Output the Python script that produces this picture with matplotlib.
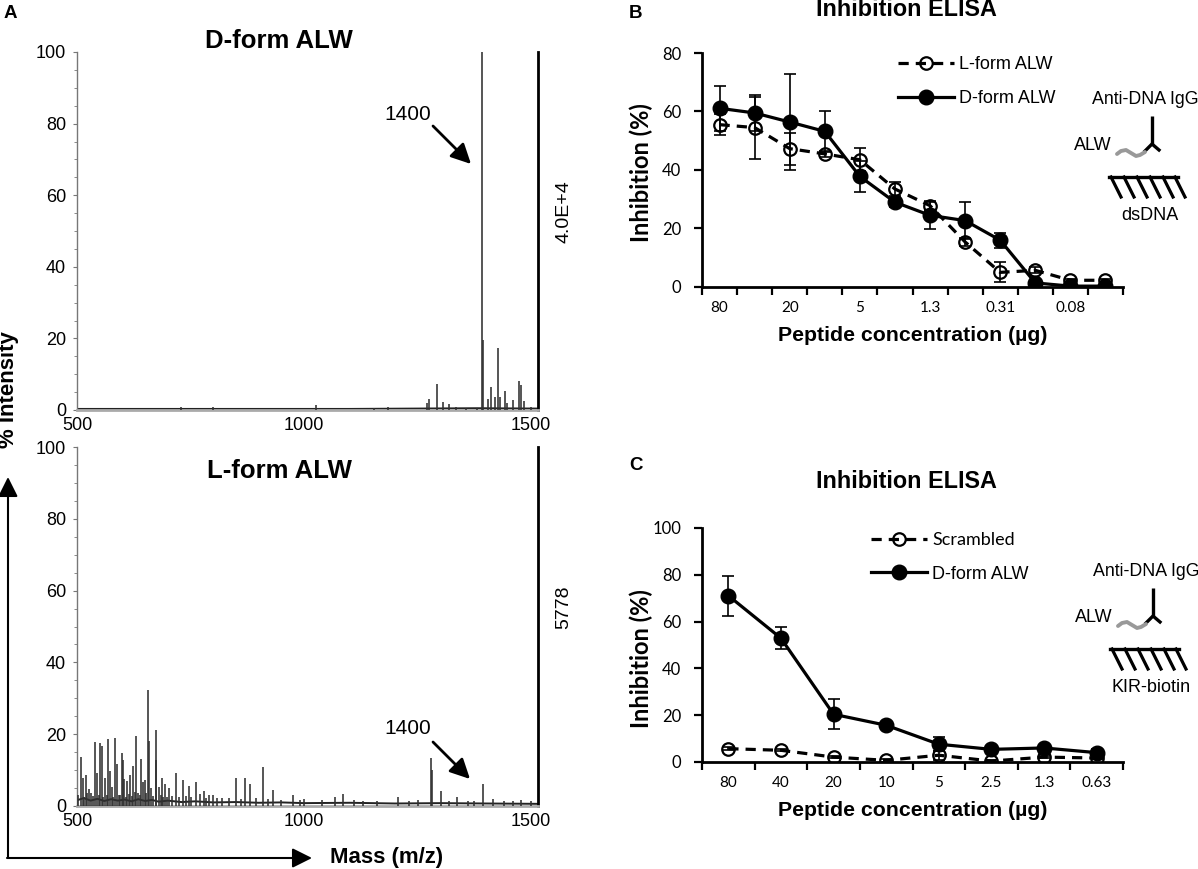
import numpy as np
import matplotlib
matplotlib.use("Agg")
import matplotlib.pyplot as plt

W, H = 1198, 869

# ---- panel A : MALDI spectra (m/z, % intensity) ----
d_mz = [729, 799, 1026, 1154, 1185, 1270, 1274, 1292, 1305, 1320, 1334, 1356, 1381,
        1392, 1394, 1405, 1411, 1420, 1426, 1431, 1443, 1447, 1461, 1473, 1477, 1485, 1500]
d_int = [0.8, 0.8, 1.3, 0.5, 0.7, 2.0, 3.1, 7.3, 2.3, 1.7, 0.8, 0.5, 0.6,
         100, 19.5, 3.0, 6.5, 3.7, 17.4, 3.7, 5.3, 2.0, 2.8, 8.1, 7.0, 2.5, 0.8]
d_base_mz = [500, 800, 1100, 1250, 1380, 1515]
d_base = [0.3, 0.3, 0.3, 0.4, 0.5, 0.4]

l_mz = [508, 513, 519, 526, 530, 540, 545, 551, 554, 562, 569, 573, 577, 584, 587, 592,
        598, 601, 604, 611, 617, 624, 630, 634, 642, 646, 650, 657, 659, 664, 673, 675,
        680, 687, 694, 703, 718, 733, 740, 747, 762, 771, 780, 790, 799, 809, 849, 870,
        881, 910, 931, 976, 1000, 1068, 1085, 1130, 1206, 1279, 1281, 1301, 1337, 1360,
        1393, 1415, 1477,
        503, 516, 522, 535, 548, 557, 566, 580, 595, 608, 614, 620, 627, 638, 653, 668,
        684, 690, 698, 710, 725, 752, 785, 820, 835, 860, 895, 920, 950, 990, 1040, 1110,
        1160, 1230, 1250, 1320, 1375, 1440, 1460, 1500]
l_int = [13.6, 7.7, 8.5, 4.6, 3.7, 17.9, 9.3, 17.6, 16.7, 7.9, 18.8, 9.7, 5.3, 19.0, 11.6, 3.2,
         14.7, 12.8, 7.4, 7.0, 8.5, 11.1, 19.6, 3.7, 13.0, 6.7, 7.2, 32.2, 18.1, 5.1, 21.1, 12.7,
         5.3, 7.9, 6.2, 4.9, 9.3, 7.2, 2.8, 5.6, 6.6, 3.4, 4.2, 3.1, 3.0, 2.3, 7.9, 7.9,
         6.0, 10.9, 4.5, 3.0, 2.0, 2.5, 3.4, 1.5, 2.6, 13.5, 10.0, 4.2, 2.5, 1.5,
         6.0, 2.0, 1.8,
         3.0, 2.5, 3.5, 2.8, 3.0, 2.5, 3.2, 2.6, 3.0, 2.5, 3.4, 2.8, 4.0, 3.0, 3.5, 2.8,
         3.0, 2.5, 2.6, 2.8, 2.4, 2.5, 2.2, 2.3, 2.1, 2.0, 2.2, 2.0, 1.8, 1.7, 1.7, 1.6,
         1.5, 1.4, 1.8, 1.5, 1.3, 1.4, 1.3, 1.5]
l_base_mz = [500, 515, 530, 545, 560, 575, 590, 605, 620, 635, 650, 665, 680, 700, 730,
             760, 800, 850, 900, 950, 1000, 1100, 1200, 1300, 1400, 1515]
l_base = [1.6, 2.2, 1.5, 2.0, 1.4, 1.9, 1.5, 1.8, 1.3, 1.9, 1.4, 1.7, 1.2, 1.5, 1.1,
          1.3, 1.0, 1.1, 0.9, 1.0, 0.8, 0.9, 0.7, 0.8, 0.7, 0.6]

# ---- panel B : inhibition ELISA on dsDNA ----
b_labels = ["80", "", "20", "", "5", "", "1.3", "", "0.31", "", "0.08", ""]
b_lform = [55.5, 54.5, 47.3, 45.5, 43.5, 33.5, 27.8, 15.4, 5.0, 5.7, 2.3, 2.3]
b_lform_err = [3.5, 10.6, 5.5, 1.0, 4.0, 2.5, 1.5, 1.5, 3.4, 1.0, 0.5, 0.5]
b_dform = [61.1, 59.5, 56.4, 53.2, 37.8, 29.0, 24.5, 22.7, 16.0, 1.4, 0.3, 0.3]
b_dform_err = [7.7, 6.3, 16.5, 7.0, 5.3, 1.5, 4.6, 6.3, 2.6, 0.5, 0.3, 0.3]

# ---- panel C : inhibition ELISA on KIR-biotin ----
c_labels = ["80", "40", "20", "10", "5", "2.5", "1.3", "0.63"]
c_scr = [5.7, 5.0, 2.1, 0.7, 2.9, 0.4, 2.1, 1.7]
c_scr_err = [0.5, 0.5, 0.5, 0.5, 2.0, 0.5, 0.5, 0.5]
c_dform = [71.1, 52.9, 20.4, 15.7, 7.6, 5.4, 6.0, 4.0]
c_dform_err = [8.5, 4.7, 6.5, 1.5, 3.0, 0.5, 0.5, 1.5]

ARIAL = "Liberation Sans"
CALIBRI = "Lato"


def box(left, top, right, bottom):
    return [left / W, 1 - bottom / H, (right - left) / W, (bottom - top) / H]


fig = plt.figure(figsize=(W / 100, H / 100), dpi=100)


def spectrum(ax, mz, inten, base_mz, base):
    ax.plot(base_mz, base, color="#222222", lw=1.4, zorder=2)
    ax.vlines(mz, 0, inten, color="#303030", lw=1.15, zorder=3)
    ax.set_xlim(500, 1515)
    ax.set_ylim(0, 100)
    ax.set_xticks([500, 1000, 1500])
    ax.set_yticks(range(0, 101, 20))
    ax.set_yticks(range(0, 101, 5), minor=True)
    ax.spines["top"].set_visible(False)
    ax.spines["left"].set_color("#777777")
    ax.spines["left"].set_linewidth(1.0)
    ax.spines["bottom"].set_color("#aaaaaa")
    ax.spines["bottom"].set_linewidth(2.0)
    ax.spines["right"].set_color("black")
    ax.spines["right"].set_linewidth(2.0)
    ax.tick_params(axis="y", which="major", length=3, width=0.8, color="#777777", pad=5,
                   labelsize=13)
    ax.tick_params(axis="y", which="minor", length=2, width=0.6, color="#777777")
    ax.tick_params(axis="x", length=0, pad=5, labelsize=13)
    for lab in ax.get_xticklabels() + ax.get_yticklabels():
        lab.set_family(ARIAL)
    ax.set_facecolor("none")


axA1 = fig.add_axes(box(77, 52, 538, 410))
spectrum(axA1, d_mz, d_int, d_base_mz, d_base)
axA2 = fig.add_axes(box(77, 447, 538, 806))
spectrum(axA2, l_mz, l_int, l_base_mz, l_base)


def elisa(ax, labels, s1, e1, s2, e2, names, ymax):
    x = np.arange(len(labels))
    ax.errorbar(x, s1, yerr=e1, fmt="none", ecolor="black", elinewidth=1.2,
                capsize=4, capthick=1.2, zorder=2)
    ax.errorbar(x, s2, yerr=e2, fmt="none", ecolor="black", elinewidth=1.2,
                capsize=4, capthick=1.2, zorder=2)
    ax.plot(x, s1, ls=(0, (3.2, 2.2)), color="black", lw=2.3, marker="o", ms=9,
            mfc="none", mec="black", mew=1.6, label=names[0], zorder=3)
    ax.plot(x, s2, ls="-", color="black", lw=2.3, marker="o", ms=10.5,
            mfc="black", mec="black", label=names[1], zorder=4)
    ax.set_xlim(-0.5, len(labels) - 0.5)
    ax.set_ylim(0, ymax)
    ax.set_xticks(x)
    ax.set_xticklabels(labels, family=CALIBRI, fontsize=11)
    ax.set_xticks(np.arange(-0.5, len(labels), 1), minor=True)
    ax.set_yticks(range(0, ymax + 1, 20))
    for lab in ax.get_yticklabels():
        lab.set_family(CALIBRI)
        lab.set_fontsize(12)
    ax.tick_params(axis="x", which="major", length=0, pad=10)
    ax.tick_params(axis="x", which="minor", length=6, width=1.6)
    ax.tick_params(axis="y", length=6, width=1.6, pad=9)
    ax.spines["top"].set_visible(False)
    ax.spines["right"].set_visible(False)
    ax.spines["left"].set_linewidth(2.0)
    ax.spines["bottom"].set_linewidth(2.0)
    ax.set_ylabel("Inhibition (%)", family=CALIBRI, fontweight="bold", fontsize=17)
    ax.set_xlabel("Peptide concentration (\u00b5g)", family=ARIAL, fontweight="bold",
                  fontsize=15.3, labelpad=8)
    ax.set_facecolor("none")


axB = fig.add_axes(box(702, 53, 1123, 287))
elisa(axB, b_labels, b_lform, b_lform_err, b_dform, b_dform_err,
      ["L-form ALW", "D-form ALW"], 80)
axB.yaxis.set_label_coords(-0.116, 0.487)
axB.legend(loc="center left", bbox_to_anchor=(898 / W, 1 - 81.5 / H),
           bbox_transform=fig.transFigure, frameon=False,
           prop={"family": ARIAL, "size": 13}, handlelength=3.1, handletextpad=0.3,
           labelspacing=0.95, borderpad=0, borderaxespad=0)

axC = fig.add_axes(box(702, 528, 1123, 762))
elisa(axC, c_labels, c_scr, c_scr_err, c_dform, c_dform_err,
      ["Scrambled", "D-form ALW"], 100)
axC.yaxis.set_label_coords(-0.116, 0.44)
axC.legend(loc="center left", bbox_to_anchor=(871 / W, 1 - 557.5 / H),
           bbox_transform=fig.transFigure, frameon=False,
           prop={"family": CALIBRI, "size": 13}, handlelength=3.1, handletextpad=0.3,
           labelspacing=0.95, borderpad=0, borderaxespad=0)
axC.get_legend().get_texts()[1].set_family(ARIAL)

# ---- overlay in image pixels for labels, arrows and cartoons ----
ov = fig.add_axes([0, 0, 1, 1], zorder=10)
ov.set_xlim(0, W)
ov.set_ylim(H, 0)
ov.axis("off")
ov.patch.set_alpha(0)

bold = dict(family=ARIAL, fontweight="bold")
ov.text(10, 14, "A", fontsize=13.5, ha="center", va="center", **bold)
ov.text(635, 13, "B", fontsize=13.5, ha="center", va="center", **bold)
ov.text(636, 466, "C", fontsize=13.5, ha="center", va="center", **bold)

ov.text(279, 41, "D-form ALW", fontsize=18.5, ha="center", va="center", **bold)
ov.text(279, 471, "L-form ALW", fontsize=18.5, ha="center", va="center", **bold)
ov.text(906, 10, "Inhibition ELISA", fontsize=16.8, ha="center", va="center", **bold)
ov.text(906, 482, "Inhibition ELISA", fontsize=16.8, ha="center", va="center", **bold)

ov.text(564, 212, "4.0E+4", fontsize=14, rotation=90, ha="center", va="center", family=ARIAL)
ov.text(564, 607, "5778", fontsize=14, rotation=90, ha="center", va="center", family=ARIAL)

for ty, a0, a1 in [(114, (433, 126), (471, 164)), (729, (433, 742), (470, 779))]:
    ov.text(408, ty, "1400", fontsize=15, ha="center", va="center", family=ARIAL)
    ov.annotate("", xy=a1, xytext=a0,
                arrowprops=dict(arrowstyle="-|>,head_length=0.6,head_width=0.3",
                                color="black", lw=2.0, mutation_scale=20,
                                shrinkA=0, shrinkB=0))

# big axis arrows of panel A
ov.annotate("", xy=(8, 477), xytext=(8, 858),
            arrowprops=dict(arrowstyle="-|>,head_length=0.6,head_width=0.3",
                            color="black", lw=1.5, mutation_scale=20, shrinkA=0, shrinkB=0))
ov.annotate("", xy=(312, 858), xytext=(7, 858),
            arrowprops=dict(arrowstyle="-|>,head_length=0.6,head_width=0.3",
                            color="black", lw=1.5, mutation_scale=20, shrinkA=0, shrinkB=0))
ov.text(330, 857, "Mass (m/z)", fontsize=16, ha="left", va="center", **bold)
ov.text(9, 390, "% Intensity", fontsize=16, rotation=90, ha="center", va="center", **bold)


def cartoon(dx, dy, surface):
    ov.text(1145 + dx, 100 + dy, "Anti-DNA IgG", fontsize=12.8, ha="center", va="center",
            family=ARIAL)
    ov.plot([1152 + dx, 1152 + dx], [116 + dy, 144 + dy], color="black", lw=2.4,
            solid_capstyle="butt")
    ov.plot([1145 + dx, 1152 + dx, 1159 + dx], [151 + dy, 144 + dy, 150 + dy],
            color="black", lw=2.4, solid_joinstyle="miter")
    sq_x = [1117, 1121, 1126, 1131, 1136, 1140, 1145]
    sq_y = [154, 151, 150, 153, 156, 155, 152]
    ov.plot([v + dx for v in sq_x], [v + dy for v in sq_y], color="#999999", lw=2.8,
            solid_capstyle="round")
    ov.text(1112 + dx, 145 + dy, "ALW", fontsize=13, ha="right", va="center", family=ARIAL)
    ov.plot([1109 + dx, 1178 + dx], [177 + dy, 177 + dy], color="black", lw=2.4)
    for hx in [1111, 1124, 1137, 1150, 1163, 1175]:
        ov.plot([hx + dx, hx + 10 + dx], [177 + dy, 197 + dy], color="black", lw=2.3)
    ov.text(1150 + dx, 215 + dy, surface, fontsize=13, ha="center", va="center",
            family=ARIAL)


cartoon(0, 0, "dsDNA")
cartoon(1, 472, "KIR-biotin")

fig.savefig("out.png", dpi=100)
